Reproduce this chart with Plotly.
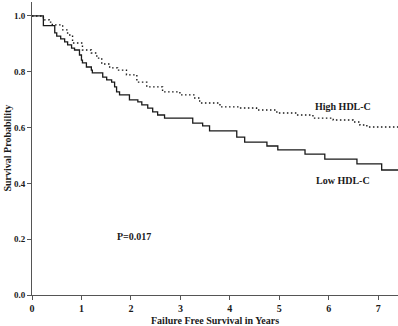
import plotly.graph_objects as go

# Low HDL-C Kaplan-Meier steps
low_times = [0, 0.23, 0.46, 0.50, 0.58, 0.66, 0.72, 0.80, 0.86, 0.96, 1.00, 1.02, 1.10, 1.20, 1.22,
             1.43, 1.51, 1.61, 1.67, 1.71, 1.77, 1.97, 2.14, 2.22, 2.34, 2.44, 2.54, 2.68, 3.25,
             3.45, 3.59, 4.14, 4.30, 4.75, 4.97, 5.52, 5.92, 6.57, 7.07, 7.40]
low_surv = [1.0, 0.965, 0.939, 0.928, 0.918, 0.907, 0.896, 0.885, 0.878, 0.860, 0.842, 0.832, 0.817,
            0.806, 0.796, 0.781, 0.771, 0.763, 0.746, 0.728, 0.717, 0.699, 0.692, 0.681, 0.670,
            0.656, 0.645, 0.634, 0.616, 0.606, 0.588, 0.566, 0.548, 0.534, 0.520, 0.505, 0.487,
            0.470, 0.448, 0.448]

# High HDL-C Kaplan-Meier steps
high_times = [0, 0.23, 0.25, 0.35, 0.41, 0.62, 0.72, 0.82, 1.02, 1.20, 1.31, 1.41, 1.57, 1.73, 1.91,
              2.12, 2.32, 2.64, 2.99, 3.29, 3.39, 3.80, 4.20, 4.54, 4.95, 5.35, 5.68, 6.09, 6.49,
              6.63, 6.77, 7.40]
high_surv = [1.0, 0.993, 0.986, 0.978, 0.968, 0.950, 0.932, 0.903, 0.878, 0.867, 0.849, 0.828, 0.814,
             0.806, 0.789, 0.763, 0.746, 0.728, 0.717, 0.706, 0.688, 0.674, 0.670, 0.663, 0.652,
             0.645, 0.634, 0.627, 0.620, 0.609, 0.602, 0.602]

x_ticks = [0, 1, 2, 3, 4, 5, 6, 7]
y_ticks = [0.0, 0.2, 0.4, 0.6, 0.8, 1.0]

FONT = "Liberation Serif"
INK = "#1a1a1a"

fig = go.Figure()
fig.add_trace(go.Scatter(x=high_times, y=high_surv, mode="lines", line_shape="hv",
                         line=dict(color=INK, width=1.4, dash="1.5px,2.5px"), name="High HDL-C",
                         showlegend=False))
fig.add_trace(go.Scatter(x=low_times, y=low_surv, mode="lines", line_shape="hv",
                         line=dict(color=INK, width=1.3), name="Low HDL-C", showlegend=False))

fig.update_layout(
    width=398, height=326,
    margin=dict(l=32, r=0, t=2, b=31),
    paper_bgcolor="white", plot_bgcolor="white",
    font=dict(family=FONT, color=INK, size=9),
    xaxis=dict(range=[0, 7.4], tickvals=x_ticks, ticktext=[str(v) for v in x_ticks],
               showline=True, linecolor="#555", linewidth=1, ticks="outside", ticklen=4,
               tickcolor="#555", showgrid=False, zeroline=False, ticklabelstandoff=0,
               tickfont=dict(family=FONT, size=10, color=INK, weight="bold")),
    yaxis=dict(range=[0, 1.05], tickvals=y_ticks, ticktext=[f"{v:.1f}" for v in y_ticks],
               showline=True, linecolor="#555", linewidth=1, ticks="outside", ticklen=4,
               tickcolor="#555", showgrid=False, zeroline=False,
               tickfont=dict(family=FONT, size=9, color=INK, weight="bold")),
    annotations=[
        dict(x=6.29, y=0.677, xref="x", yref="y", text="<b>High HDL-C</b>", showarrow=False,
             font=dict(family=FONT, size=10, color=INK)),
        dict(x=6.29, y=0.409, xref="x", yref="y", text="<b>Low HDL-C</b>", showarrow=False,
             font=dict(family=FONT, size=10, color=INK)),
        dict(x=2.07, y=0.211, xref="x", yref="y", text="<b>P=0.017</b>", showarrow=False,
             font=dict(family=FONT, size=10, color=INK)),
        dict(x=3.69, y=0, xref="x", yref="paper", yshift=-25, yanchor="middle", xanchor="center",
             text="<b>Failure Free Survival in Years</b>",
             showarrow=False, font=dict(family=FONT, size=10, color=INK)),
        dict(x=0, y=0.50, xref="paper", yref="paper", xshift=-25, textangle=-90,
             xanchor="center", yanchor="middle",
             text="<b>Survival Probability</b>", showarrow=False,
             font=dict(family=FONT, size=10, color=INK)),
    ],
)

fig.write_html("out.html", config={"displayModeBar": False},
               post_script="document.body.style.margin='0';")
